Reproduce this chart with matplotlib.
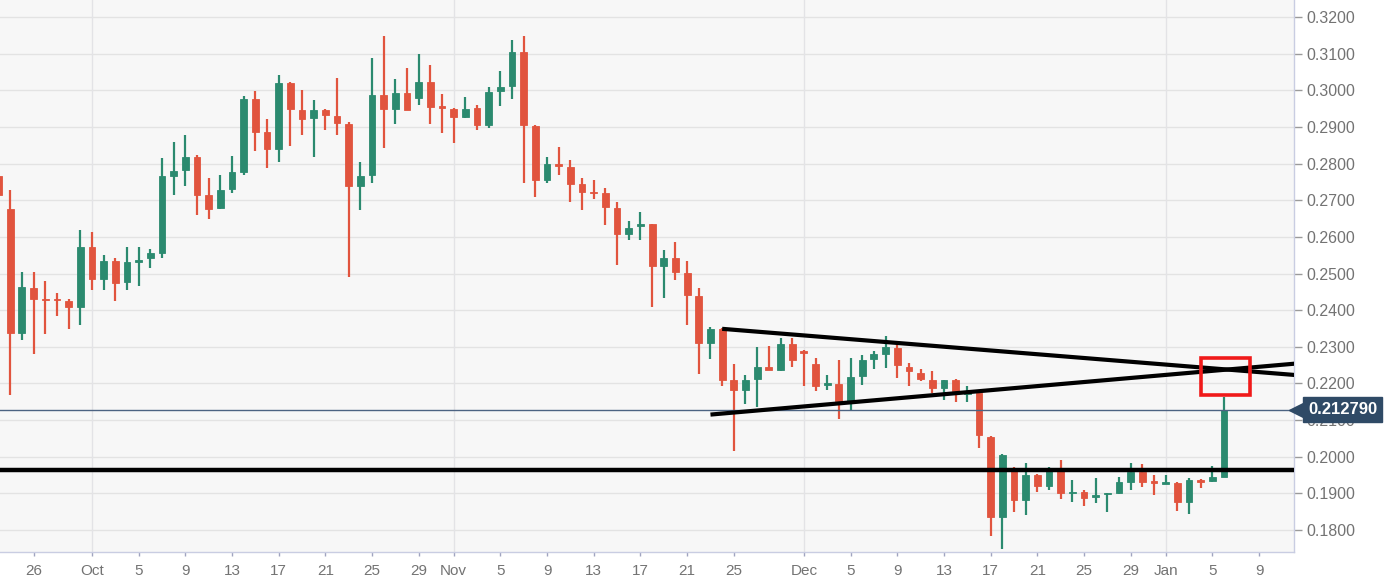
import datetime as dt
import numpy as np
import matplotlib
matplotlib.use("Agg")
import matplotlib.pyplot as plt
import matplotlib.dates as mdates
from matplotlib.transforms import blended_transform_factory
from matplotlib.patches import Rectangle

plt.rcParams['font.family'] = ['Liberation Sans', 'DejaVu Sans']

# daily candles, 2019-09-23 .. 2020-01-06
start_day = dt.date(2019, 9, 23)
opens = [
    .2765, .2675, .2337, .2460, .2430, .2428, .2425, .2408,
    .2573, .2486, .2533, .2476, .2531, .2543, .2555, .2767, .2783, .2819,
    .2713, .2679, .2731, .2776, .2977, .2886, .2840, .3019, .2947, .2925,
    .2947, .2929, .2908, .2738, .2768, .2987, .2949, .2993, .2979, .3023, .2955,
    .2949, .2927, .2953, .2906, .2999, .3013, .3104, .2902, .2755, .2798,
    .2791, .2743, .2723, .2721, .2679, .2607, .2630, .2634, .2521, .2541,
    .2501, .2438, .2309, .2349, .2208, .2183, .2213, .2245, .2238, .2307,
    .2289, .2254, .2196, .2198, .2153, .2220, .2267, .2280, .2297, .2246,
    .2228, .2210, .2188, .2208, .2170, .2173, .2055, .1835, .1968, .1883,
    .1951, .1921, .1968, .1900, .1905, .1890, .1897, .1900, .1931, .1958, .1933,
    .1926, .1928, .1876, .1936, .1934, .1946,
]
highs = [
    .2790, .2728, .2504, .2503, .2479, .2447, .2430, .2620,
    .2612, .2551, .2543, .2571, .2571, .2566, .2816, .2859, .2879, .2824,
    .2760, .2768, .2822, .2985, .2997, .2923, .3043, .3023, .3002, .2973,
    .2949, .3034, .2914, .2803, .3088, .3149, .3030, .3060, .3099, .3068, .2990,
    .2951, .2983, .2960, .3008, .3054, .3136, .3149, .2904, .2819, .2846,
    .2809, .2760, .2755, .2733, .2694, .2644, .2667, .2635, .2563, .2587,
    .2533, .2460, .2354, .2351, .2254, .2223, .2299, .2301, .2324, .2324,
    .2290, .2269, .2223, .2264, .2269, .2277, .2289, .2329, .2304, .2257,
    .2240, .2233, .2210, .2213, .2193, .2175, .2057, .2008, .1971, .1984,
    .1954, .1971, .1991, .1936, .1910, .1941, .1901, .1946, .1984, .1981, .1951,
    .1951, .1930, .1941, .1938, .1974, .2163,
]
lows = [
    .2700, .2168, .2319, .2281, .2334, .2385, .2349, .2360,
    .2455, .2455, .2425, .2455, .2465, .2516, .2541, .2715, .2738, .2660,
    .2650, .2677, .2721, .2768, .2834, .2788, .2803, .2849, .2879, .2819,
    .2892, .2879, .2491, .2672, .2748, .2842, .2909, .2945, .2960, .2908, .2884,
    .2856, .2925, .2892, .2896, .2957, .2975, .2748, .2708, .2748, .2768,
    .2694, .2674, .2703, .2632, .2523, .2592, .2592, .2408, .2432, .2481,
    .2360, .2226, .2267, .2193, .2016, .2143, .2136, .2236, .2233, .2246,
    .2193, .2180, .2183, .2102, .2125, .2196, .2240, .2243, .2216, .2193,
    .2206, .2173, .2156, .2150, .2150, .2025, .1784, .1749, .1850, .1840,
    .1905, .1910, .1885, .1877, .1865, .1873, .1850, .1898, .1910, .1917, .1895,
    .1925, .1853, .1845, .1915, .1932, .1944,
]
closes = [
    .2713, .2337, .2462, .2430, .2428, .2427, .2408, .2573,
    .2486, .2533, .2473, .2531, .2538, .2555, .2765, .2781, .2819, .2713,
    .2677, .2728, .2776, .2977, .2886, .2840, .3019, .2949, .2923, .2947,
    .2933, .2911, .2738, .2765, .2987, .2949, .2993, .2947, .3023, .2955, .2953,
    .2927, .2950, .2906, .2995, .3010, .3104, .2904, .2755, .2798, .2793,
    .2745, .2723, .2719, .2682, .2607, .2624, .2634, .2521, .2541, .2503,
    .2440, .2309, .2349, .2210, .2183, .2210, .2245, .2238, .2307, .2264,
    .2284, .2193, .2200, .2153, .2218, .2264, .2279, .2299, .2249, .2233,
    .2213, .2188, .2208, .2180, .2176, .2059, .1835, .2006, .1883, .1951,
    .1921, .1968, .1900, .1905, .1887, .1895, .1900, .1931, .1958, .1931, .1928,
    .1931, .1876, .1936, .1931, .1944, .21279,
]

tick_dates = [dt.date(2019, 9, 26), dt.date(2019, 10, 1), dt.date(2019, 10, 5), dt.date(2019, 10, 9),
              dt.date(2019, 10, 13), dt.date(2019, 10, 17), dt.date(2019, 10, 21), dt.date(2019, 10, 25),
              dt.date(2019, 10, 29), dt.date(2019, 11, 1), dt.date(2019, 11, 5), dt.date(2019, 11, 9),
              dt.date(2019, 11, 13), dt.date(2019, 11, 17), dt.date(2019, 11, 21), dt.date(2019, 11, 25),
              dt.date(2019, 12, 1), dt.date(2019, 12, 5), dt.date(2019, 12, 9), dt.date(2019, 12, 13),
              dt.date(2019, 12, 17), dt.date(2019, 12, 21), dt.date(2019, 12, 25), dt.date(2019, 12, 29),
              dt.date(2020, 1, 1), dt.date(2020, 1, 5), dt.date(2020, 1, 9)]
tick_labels = ["26", "Oct", "5", "9", "13", "17", "21", "25", "29", "Nov", "5", "9", "13", "17",
               "21", "25", "Dec", "5", "9", "13", "17", "21", "25", "29", "Jan", "5", "9"]
month_starts = [dt.date(2019, 10, 1), dt.date(2019, 11, 1), dt.date(2019, 12, 1), dt.date(2020, 1, 1)]
price_ticks = [0.18, 0.19, 0.20, 0.21, 0.22, 0.23, 0.24, 0.25, 0.26, 0.27, 0.28, 0.29, 0.30, 0.31, 0.32]

# drawn lines: (day, price) end points
upper_trend = [(dt.datetime(2019, 11, 24), 0.2349), (dt.datetime(2020, 1, 12, 2), 0.2223)]
lower_trend = [(dt.datetime(2019, 11, 23), 0.2115), (dt.datetime(2020, 1, 12, 2), 0.2254)]
support_level = 0.1963
box_days = (dt.datetime(2020, 1, 4, 1), dt.datetime(2020, 1, 8, 5))
box_prices = (0.2168, 0.2269)

GREEN = "#2b8a6f"
RED = "#e1543e"

days = [start_day + dt.timedelta(days=i) for i in range(len(opens))]
x = mdates.date2num(days)
o = np.array(opens); h = np.array(highs); l = np.array(lows); c = np.array(closes)
up = c >= o
cols = np.where(up, GREEN, RED)

fig = plt.figure(figsize=(13.88, 5.8), dpi=100)
ax = fig.add_axes([0.0, 0.0483, 0.9323, 0.9517])
ax.set_facecolor("#f7f7f7")

for p in price_ticks:
    ax.axhline(p, color="#e3e3e3", lw=1.0, zorder=0)
for m in month_starts:
    ax.axvline(mdates.date2num(m), color="#e3e3e6", lw=1.0, zorder=0)

ax.vlines(x, l, h, colors=cols, lw=1.6, zorder=2)
body_lo = np.minimum(o, c)
body_h = np.maximum(np.abs(c - o), 0.00035)
ax.bar(x, body_h, bottom=body_lo, width=0.58, color=cols, edgecolor=cols, lw=0.6, zorder=3)

last = closes[-1]
ax.axhline(last, color="#4c6382", lw=1.0, zorder=4)
ax.axhline(support_level, color="black", lw=3.2, zorder=5)
for seg in (upper_trend, lower_trend):
    ax.plot([mdates.date2num(seg[0][0]), mdates.date2num(seg[1][0])],
            [seg[0][1], seg[1][1]], color="black", lw=3.0, solid_capstyle="butt", zorder=5)

bx0, bx1 = mdates.date2num(box_days[0]), mdates.date2num(box_days[1])
ax.add_patch(Rectangle((bx0, box_prices[0]), bx1 - bx0, box_prices[1] - box_prices[0],
                       fill=False, edgecolor="#f01a1a", lw=2.6, zorder=6))

ax.set_xlim(mdates.date2num(dt.datetime(2019, 9, 23, 3)), mdates.date2num(dt.datetime(2020, 1, 12, 0)))
ax.set_ylim(0.1740, 0.32464)

ax.set_xticks(mdates.date2num(tick_dates))
ax.set_xticklabels(tick_labels)
ax.yaxis.tick_right()
ax.set_yticks(price_ticks)
ax.set_yticklabels([f"{p:.4f}" for p in price_ticks])
ax.tick_params(axis="x", length=3, width=1, color="#a0a4c0", labelsize=11, labelcolor="#737373", pad=6)
ax.tick_params(axis="y", length=6, width=1, color="#9a9a9a", labelsize=11.5, labelcolor="#737373", pad=3)
for s in ("top", "left"):
    ax.spines[s].set_visible(False)
for s in ("bottom", "right"):
    ax.spines[s].set_color("#c9cde2")
    ax.spines[s].set_linewidth(1.0)

# last price tag (covers the 0.2100 label, as in the original)
trans = blended_transform_factory(ax.transAxes, ax.transData)
ax.annotate(f"{last:.6f}", xy=(1.0, last), xycoords=trans, xytext=(10, 0), textcoords="offset points",
            ha="left", va="center", fontsize=12, fontweight="bold", color="white",
            bbox=dict(boxstyle="square,pad=0.3", fc="#2f4a66", ec="#2f4a66"),
            annotation_clip=False, zorder=10)
ax.plot([1.0 + 3 / 1294], [last], marker="<", markersize=12, color="#2f4a66",
        transform=trans, clip_on=False, zorder=9)

fig.savefig("out.png", dpi=100, facecolor="white")
